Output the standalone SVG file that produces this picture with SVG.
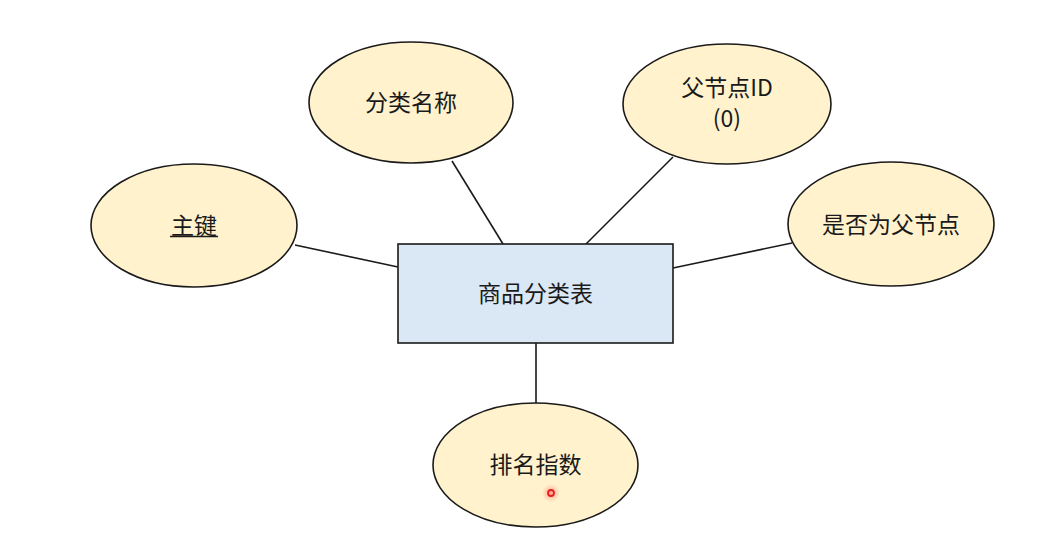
<svg xmlns="http://www.w3.org/2000/svg" width="1056" height="537" viewBox="0 0 1056 537">
  <style>
    .attr { fill: #fff2cc; stroke: #1a1a1a; stroke-width: 1.6; }
    .entity { fill: #dae8f5; stroke: #1a1a1a; stroke-width: 1.6; }
    .label { font-family: "Noto Sans CJK SC", "Liberation Sans", sans-serif; font-size: 23px; fill: #1a1a1a; text-anchor: middle; dominant-baseline: central; }
    .link { stroke: #1a1a1a; stroke-width: 1.6; fill: none; }
  </style>
  <defs>
    <radialGradient id="glow">
      <stop offset="0" stop-color="#ff4040" stop-opacity="0.45"/>
      <stop offset="1" stop-color="#ff4040" stop-opacity="0"/>
    </radialGradient>
  </defs>
  <rect width="1056" height="537" fill="#ffffff"/>

  <!-- relationship lines -->
  <g id="connectors">
    <line class="link" x1="295" y1="245" x2="398" y2="267"/>
    <line class="link" x1="452" y1="161" x2="503" y2="244"/>
    <line class="link" x1="673" y1="157" x2="586" y2="244"/>
    <line class="link" x1="792" y1="243" x2="673" y2="268"/>
    <line class="link" x1="536" y1="343" x2="536" y2="403"/>
  </g>

  <!-- entity -->
  <g id="entity-category">
    <rect class="entity" x="398" y="244" width="275" height="99"/>
    <text class="label" x="535.5" y="292">商品分类表</text>
  </g>

  <!-- attributes -->
  <g id="attr-pk">
    <ellipse class="attr" cx="194" cy="225.5" rx="103" ry="61.5"/>
    <text class="label" x="194" y="224">主键</text>
    <line x1="170" y1="236.5" x2="218" y2="236.5" stroke="#1a1a1a" stroke-width="1.5"/>
  </g>

  <g id="attr-name">
    <ellipse class="attr" cx="411" cy="102.5" rx="102" ry="60.5"/>
    <text class="label" x="411" y="101">分类名称</text>
  </g>

  <g id="attr-parent-id">
    <ellipse class="attr" cx="727" cy="104" rx="104" ry="60"/>
    <text class="label" x="727" y="86">父节点ID</text>
    <text class="label" x="727" y="117">(0)</text>
  </g>

  <g id="attr-is-parent">
    <ellipse class="attr" cx="891" cy="224" rx="103" ry="62"/>
    <text class="label" x="891" y="223">是否为父节点</text>
  </g>

  <g id="attr-sort">
    <ellipse class="attr" cx="535.5" cy="465" rx="102.5" ry="62"/>
    <text class="label" x="535.5" y="463">排名指数</text>
  </g>

  <!-- pointer marker -->
  <g id="pointer">
    <circle cx="551" cy="493" r="9" fill="url(#glow)"/>
    <circle cx="551" cy="493" r="3" fill="none" stroke="#e61e1e" stroke-width="1.8"/>
  </g>
</svg>
